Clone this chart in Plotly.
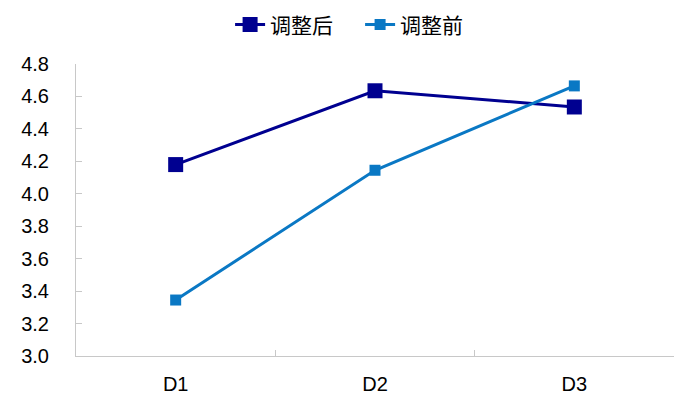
import plotly.graph_objects as go

categories = ["D1", "D2", "D3"]
after_vals = [4.18, 4.635, 4.535]
before_vals = [3.345, 4.145, 4.665]
series_names = ["调整后", "调整前"]
y_ticks = [3.0, 3.2, 3.4, 3.6, 3.8, 4.0, 4.2, 4.4, 4.6, 4.8]

fig = go.Figure()
fig.add_trace(go.Scatter(
    x=categories, y=after_vals, name=series_names[0], mode="lines+markers",
    line=dict(color="#000090", width=3),
    marker=dict(symbol="square", size=15, color="#000090"),
))
fig.add_trace(go.Scatter(
    x=categories, y=before_vals, name=series_names[1], mode="lines+markers",
    line=dict(color="#0A78C4", width=3),
    marker=dict(symbol="square", size=11, color="#0A78C4"),
))

# page body has an 8px default margin, so the figure is sized/offset to compensate
fig.update_layout(
    width=685, height=394,
    margin=dict(l=68, r=19, t=56, b=46, autoexpand=False),
    paper_bgcolor="white", plot_bgcolor="white",
    font=dict(family="Liberation Sans, Arial", size=20, color="#000000"),
    showlegend=True,
    legend=dict(
        orientation="h", xref="container", yref="container",
        x=0.514, xanchor="center", y=0.957, yanchor="middle",
        font=dict(family="Noto Sans CJK SC", size=21, color="#000000"),
        itemwidth=30, tracegroupgap=0, entrywidth=85,
    ),
    xaxis=dict(
        type="category", range=[-0.5, 2.5],
        showline=True, linecolor="#C8C8C8", linewidth=1,
        ticks="inside", tickson="boundaries", ticklen=6, tickcolor="#C8C8C8",
        showgrid=False, zeroline=False,
        tickfont=dict(family="Liberation Sans, Arial", size=20),
        ticklabelstandoff=10,
    ),
    yaxis=dict(
        range=[3.0, 4.8], tickvals=y_ticks, tickformat=".1f",
        showline=True, linecolor="#C8C8C8", linewidth=1,
        ticks="inside", ticklen=6, tickcolor="#C8C8C8",
        showgrid=False, zeroline=False,
        tickfont=dict(family="Liberation Sans, Arial", size=20),
        ticklabelstandoff=22,
    ),
)

fig.write_html("out.html")
